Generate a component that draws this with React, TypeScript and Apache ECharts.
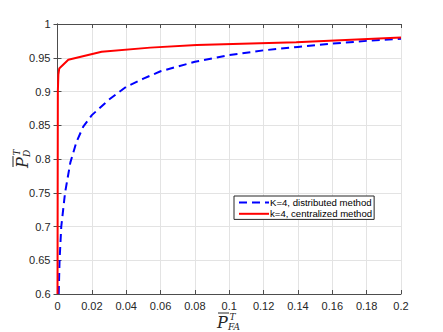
import React, { useEffect, useRef } from "react";
import * as echarts from "echarts";

const xTicks = { min: 0, max: 0.2, interval: 0.02 };
const yTicks = { min: 0.6, max: 1, interval: 0.05 };

const distX = [0.0007, 0.0012, 0.0022, 0.0044, 0.0075, 0.011, 0.015, 0.02, 0.03, 0.04, 0.05, 0.06, 0.08, 0.1, 0.12, 0.14, 0.16, 0.18, 0.2];
const distY = [0.6, 0.65, 0.70, 0.75, 0.795, 0.825, 0.848, 0.865, 0.888, 0.907, 0.919, 0.930, 0.944, 0.954, 0.961, 0.966, 0.971, 0.975, 0.978];

const centX = [0, 0.0002, 0.0005, 0.001, 0.0063, 0.0257, 0.054, 0.081, 0.139, 0.2];
const centY = [0.6, 0.9, 0.925, 0.934, 0.947, 0.959, 0.965, 0.969, 0.973, 0.98];

const seriesNames = ["K=4, distributed method", "k=4, centralized method"];

const fmt = (v: number) => String(Number(v.toFixed(2)));

export default function App() {
  const ref = useRef<HTMLDivElement>(null);
  useEffect(() => {
    if (!ref.current) return;
    const chart = echarts.init(ref.current, null, { renderer: "svg" });
    const axisColor = "#4d4d4d";
    const labelStyle = { color: "#262626", fontSize: 11, fontFamily: "Liberation Sans, Arial, sans-serif" };
    const mathFont = "italic 16px 'DejaVu Serif', 'Liberation Serif', serif";
    const mathSmall = "italic 9px 'DejaVu Serif', 'Liberation Serif', serif";
    const labelChildren = (sub: string) => [
      { type: "text", x: 0, y: 0, style: { text: "P", font: mathFont, fill: "#262626", textAlign: "left", textVerticalAlign: "middle" } },
      { type: "line", shape: { x1: 1, y1: -9, x2: 12, y2: -9 }, style: { stroke: "#262626", lineWidth: 1 } },
      { type: "text", x: 12.5, y: -4.75, style: { text: "T", font: mathSmall, lineHeight: 8, fill: "#262626", textAlign: "left", textVerticalAlign: "middle" } },
      { type: "text", x: 11, y: 5, style: { text: sub, font: mathSmall, lineHeight: 8, fill: "#262626", textAlign: "left", textVerticalAlign: "middle" } },
    ];
    chart.setOption({
      animation: false,
      backgroundColor: "#fff",
      grid: { left: 57.5, right: 42, top: 24, bottom: 38, containLabel: false },
      legend: {
        orient: "vertical",
        left: 234,
        top: 196,
        itemWidth: 30,
        itemHeight: 14,
        itemGap: 0,
        padding: [1, 2, 0, 4],
        borderColor: "#262626",
        borderWidth: 1,
        borderRadius: 0,
        backgroundColor: "#fff",
        itemStyle: { opacity: 0 },
        textStyle: { color: "#000", fontSize: 9.6, fontFamily: "Liberation Sans, Arial, sans-serif", padding: [0, 0, 0, -4] },
        data: seriesNames,
      },
      xAxis: [
        {
          type: "value", position: "bottom", ...xTicks,
          axisLine: { show: true, lineStyle: { color: axisColor } },
          axisTick: { show: true, inside: true, length: 4, lineStyle: { color: axisColor } },
          axisLabel: { ...labelStyle, margin: 6, formatter: fmt },
          splitLine: { show: true, lineStyle: { color: "#e3e3e3" } },
        },
        {
          type: "value", position: "top", ...xTicks,
          axisLine: { show: true, lineStyle: { color: axisColor } },
          axisTick: { show: true, inside: true, length: 4, lineStyle: { color: axisColor } },
          axisLabel: { show: false },
          splitLine: { show: false },
        },
      ],
      yAxis: [
        {
          type: "value", position: "left", ...yTicks,
          axisLine: { show: true, lineStyle: { color: axisColor } },
          axisTick: { show: true, inside: true, length: 4, lineStyle: { color: axisColor } },
          axisLabel: { ...labelStyle, margin: 7, formatter: fmt },
          splitLine: { show: true, lineStyle: { color: "#e3e3e3" } },
        },
        {
          type: "value", position: "right", ...yTicks,
          axisLine: { show: true, lineStyle: { color: axisColor } },
          axisTick: { show: true, inside: true, length: 4, lineStyle: { color: axisColor } },
          axisLabel: { show: false },
          splitLine: { show: false },
        },
      ],
      series: [
        {
          name: seriesNames[0], type: "line", symbol: "none",
          data: distX.map((x, i) => [x, distY[i]]),
          lineStyle: { color: "#0000ff", width: 2, type: [8, 5] },
          itemStyle: { color: "#0000ff" },
        },
        {
          name: seriesNames[1], type: "line", symbol: "none",
          data: centX.map((x, i) => [x, centY[i]]),
          lineStyle: { color: "#ff0000", width: 2 },
          itemStyle: { color: "#ff0000" },
        },
      ],
      graphic: [
        { type: "group", x: 217, y: 322, children: labelChildren("FA") },
        { type: "group", x: 22, y: 168, rotation: Math.PI / 2, children: labelChildren("D") },
      ],
    });
    return () => chart.dispose();
  }, []);
  return <div ref={ref} style={{ width: 443, height: 332, position: "absolute", left: 0, top: 0 }} />;
}
